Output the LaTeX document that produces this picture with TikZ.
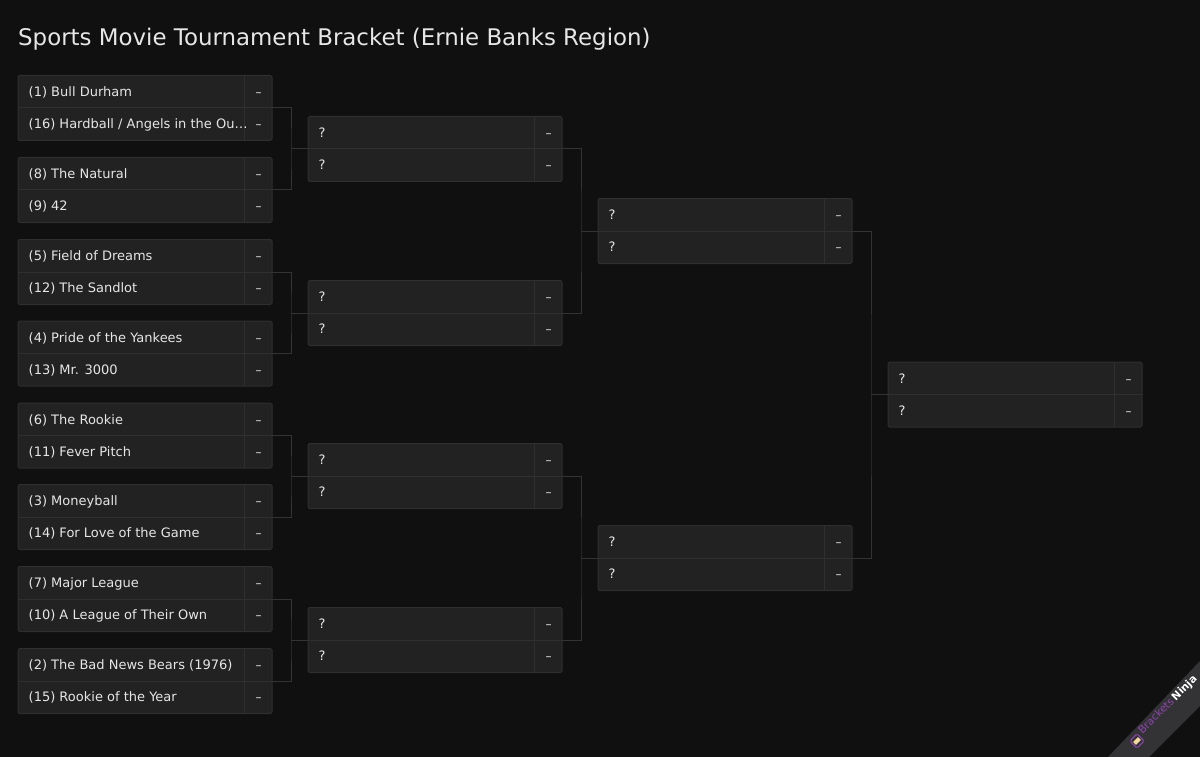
\documentclass[tikz,border=0pt]{standalone}
\usepackage{fontspec}
\setmainfont{DejaVu Sans}
\definecolor{pagebg}{HTML}{101010}
\definecolor{boxbg}{HTML}{222222}
\definecolor{boxline}{HTML}{2F2F2F}
\definecolor{wirecol}{HTML}{333333}
\definecolor{textcol}{HTML}{E6E6E6}
\definecolor{ribboncol}{HTML}{333336}
\definecolor{brackcol}{HTML}{8E44AD}
\definecolor{iconcol}{HTML}{F3D9A0}
\tikzset{
  matchframe/.style={draw=boxline, fill=boxbg, rounded corners=1.5pt, line width=1pt, inner sep=0pt, minimum width=254pt, minimum height=65pt},
  teamname/.style={anchor=base west, inner sep=0pt, text=textcol, font=\fontsize{13}{15}\selectfont},
  teamscore/.style={anchor=base, inner sep=0pt, text=textcol, font=\fontsize{12}{15}\selectfont},
  divider/.style={draw=boxline, line width=1pt},
  wire/.style={draw=wirecol, line width=1pt}
}
% one match: id, left x, centre y, two team names
\newcommand{\matchbox}[5]{
  \node[matchframe] (#1) at (#2+127,#3) {};
  \draw[divider] (#1.west) -- (#1.east);
  \draw[divider] (#2+226.5,#3-32.5) -- (#2+226.5,#3+32.5);
  \node[teamname] (#1a) at (#2+10.5,#3-11.5) {#4};
  \node[teamname] (#1b) at (#2+10.5,#3+20.5) {#5};
  \node[teamscore] (#1s) at (#2+240.5,#3-11.5) {--};
  \node[teamscore] (#1t) at (#2+240.5,#3+20.5) {--};
}
\begin{document}
\begin{tikzpicture}[x=1pt, y=-1pt]
\useasboundingbox (0,0) rectangle (1200,757);
\fill[pagebg] (0,0) rectangle (1200,757);
\node[anchor=base west, inner sep=0pt, text=textcol, font=\fontsize{22.9}{26}\selectfont] (title) at (18,45.5) {Sports Movie Tournament Bracket (Ernie Banks Region)};

\coordinate (j1) at (291,149);
\coordinate (j2) at (291,313);
\coordinate (j3) at (291,476);
\coordinate (j4) at (291,640);
\coordinate (k1) at (581,231);
\coordinate (k2) at (581,558);
\coordinate (l1) at (871,394.5);

\matchbox{a}{18}{108}{(1) Bull Durham}{(16) Hardball / Angels in the Ou…}
\matchbox{b}{18}{190}{(8) The Natural}{(9) 42}
\matchbox{c}{18}{272}{(5) Field of Dreams}{(12) The Sandlot}
\matchbox{d}{18}{353.5}{(4) Pride of the Yankees}{(13) Mr. 3000}
\matchbox{e}{18}{435.5}{(6) The Rookie}{(11) Fever Pitch}
\matchbox{f}{18}{517}{(3) Moneyball}{(14) For Love of the Game}
\matchbox{g}{18}{599}{(7) Major League}{(10) A League of Their Own}
\matchbox{h}{18}{681}{(2) The Bad News Bears (1976)}{(15) Rookie of the Year}
\matchbox{p}{308}{149}{?}{?}
\matchbox{q}{308}{313}{?}{?}
\matchbox{r}{308}{476}{?}{?}
\matchbox{s}{308}{640}{?}{?}
\matchbox{u}{598}{231}{?}{?}
\matchbox{v}{598}{558}{?}{?}
\matchbox{w}{888}{394.5}{?}{?}

\draw[wire] (a.east) -| (j1) |- (b.east);
\draw[wire] (j1) -- (p.west);
\draw[wire] (c.east) -| (j2) |- (d.east);
\draw[wire] (j2) -- (q.west);
\draw[wire] (e.east) -| (j3) |- (f.east);
\draw[wire] (j3) -- (r.west);
\draw[wire] (g.east) -| (j4) |- (h.east);
\draw[wire] (j4) -- (s.west);
\draw[wire] (p.east) -| (k1) |- (q.east);
\draw[wire] (k1) -- (u.west);
\draw[wire] (r.east) -| (k2) |- (s.east);
\draw[wire] (k2) -- (v.west);
\draw[wire] (u.east) -| (l1) |- (v.east);
\draw[wire] (l1) -- (w.west);

% ribbon in the corner
\fill[ribboncol] (1200,661) -- (1200,706) -- (1149,757) -- (1108,757) -- cycle;
\node[rotate=45, inner sep=0pt, font=\fontsize{10.5}{12}\selectfont, text=brackcol] (ribbon) at (1168,705) {Brackets\,{\color{white}\bfseries Ninja}};
\node[rotate=45, draw=brackcol, line width=1pt, rounded corners=1.5pt, minimum size=10pt, inner sep=0pt] (logo) at (1137,741) {};
\node[rotate=45, fill=iconcol, inner sep=0pt, minimum width=7pt, minimum height=4pt] (logobar) at (logo.center) {};
\end{tikzpicture}
\end{document}
